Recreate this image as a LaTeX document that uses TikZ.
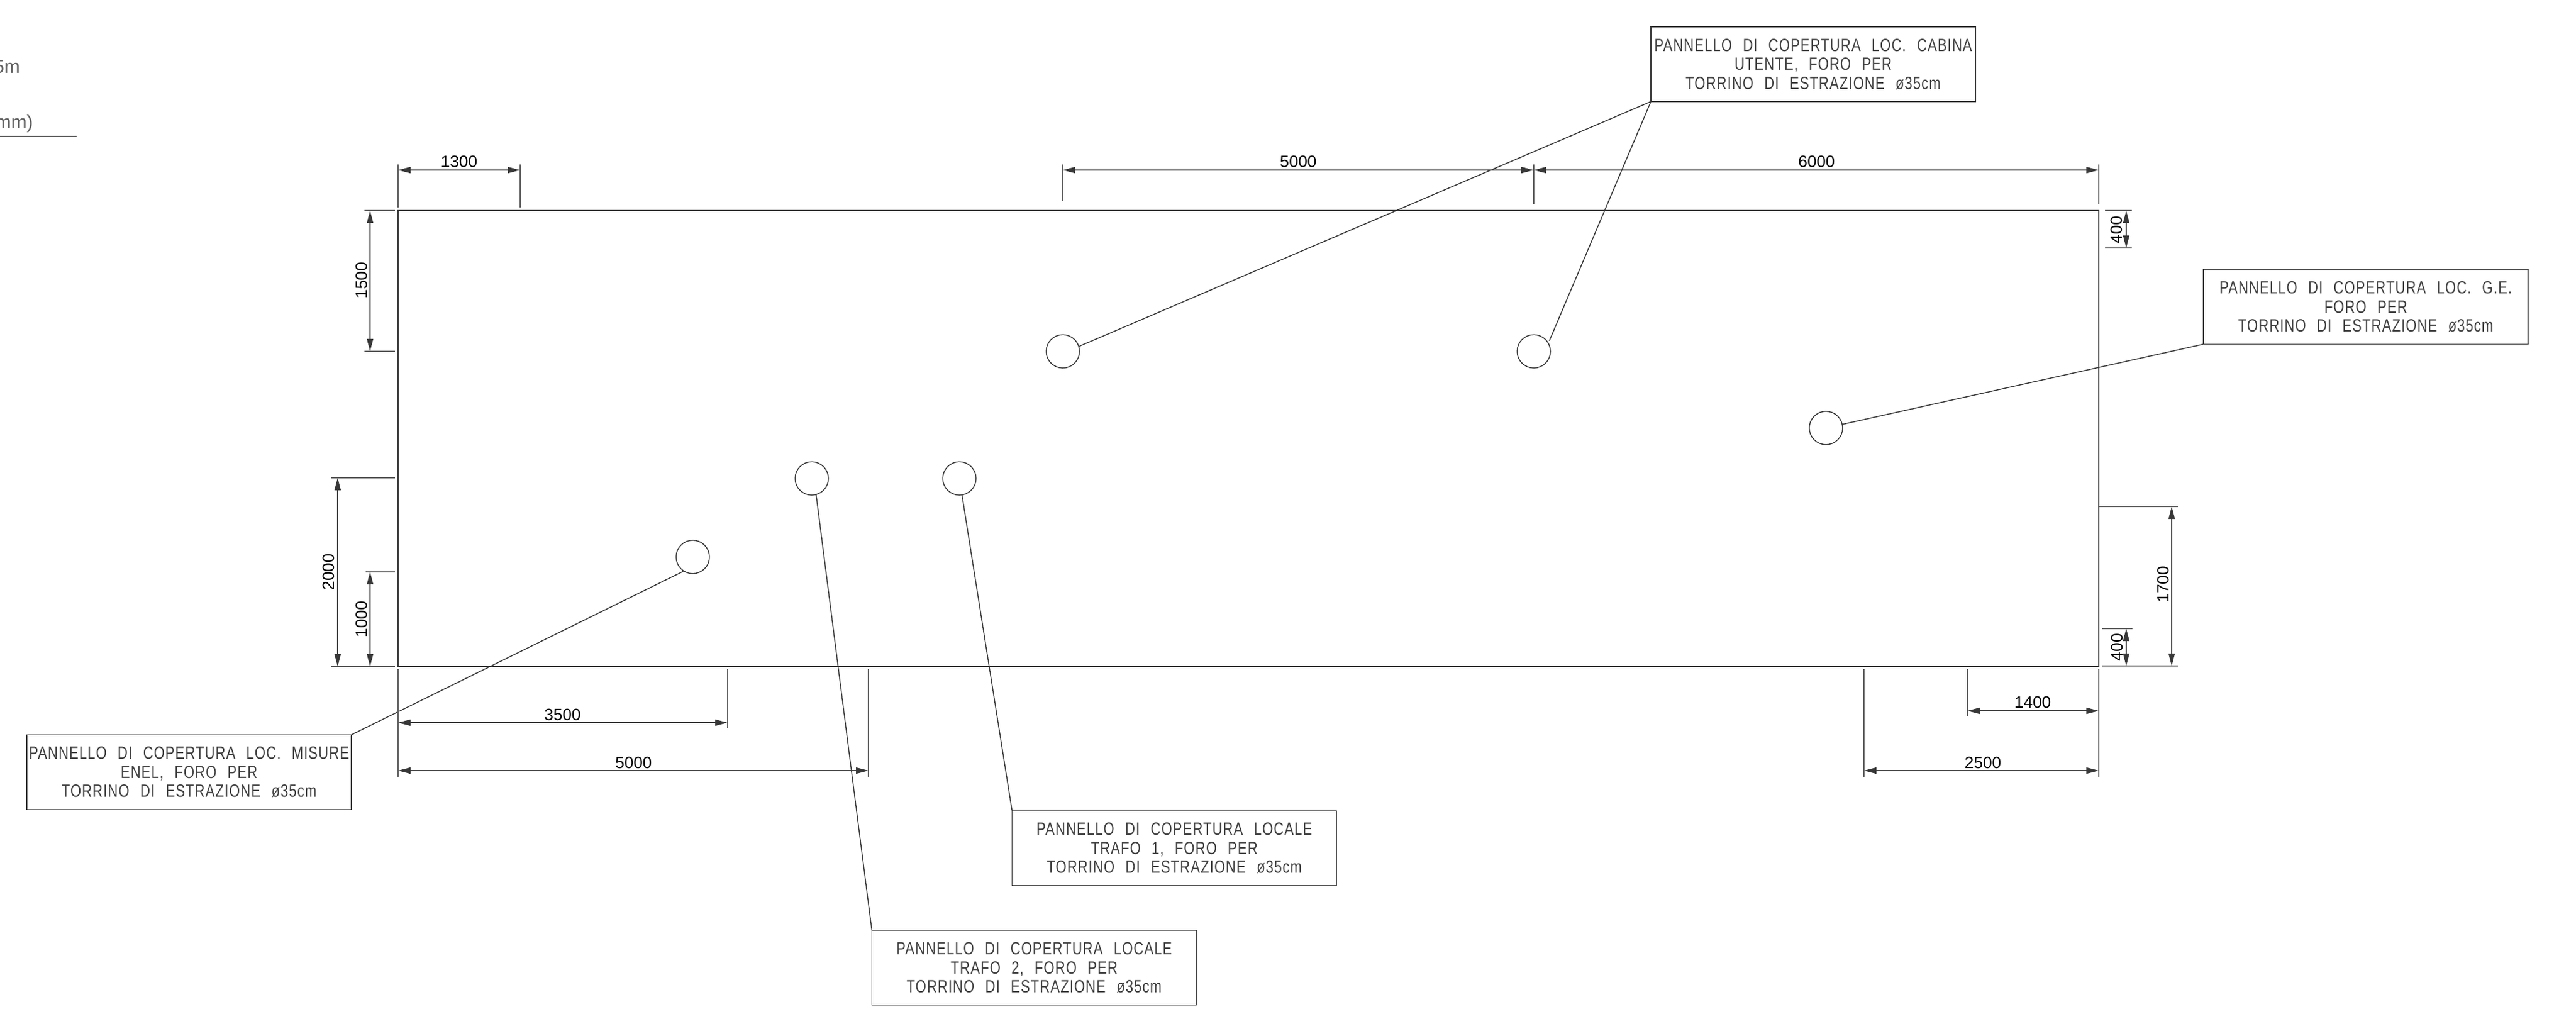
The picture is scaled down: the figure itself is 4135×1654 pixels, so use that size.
\documentclass[tikz,border=0pt]{standalone}
\usepackage{fontspec}
\usetikzlibrary{arrows.meta}
\setmainfont{Liberation Sans}
\newfontfamily\thinfont[FakeStretch=0.78,WordSpace=2.4,LetterSpace=4]{Liberation Sans}
\definecolor{linecol}{HTML}{383838}
\definecolor{extcol}{HTML}{606060}
\definecolor{thincol}{HTML}{404040}
\tikzset{
  every node/.style={inner sep=0pt,outer sep=0pt},
  sheetline/.style={draw=linecol,line width=0.15mm},
  extline/.style={draw=extcol,line width=0.15mm},
  dimline/.style={draw=linecol,line width=0.15mm,{Triangle[length=2mm,width=1mm]}-{Triangle[length=2mm,width=1mm]}},
  leader/.style={draw=linecol,line width=0.15mm},
  hole/.style={circle,draw=linecol,line width=0.15mm,minimum size=5.35mm},
  notebox/.style={rectangle,draw=linecol,line width=0.15mm,minimum width=52.1mm,minimum height=12mm,align=center,
    font=\thinfont\fontsize{8.1}{8.68}\selectfont,text=thincol},
  dimtext/.style={font=\fontsize{7.5}{9}\selectfont,text=black},
  dimtextv/.style={dimtext,rotate=90},
  cuttext/.style={anchor=east,font=\fontsize{8.6}{9}\selectfont,text=extcol}
}
\begin{document}
\begin{tikzpicture}[x=0.1mm,y=-0.1mm]
\useasboundingbox (0,0) rectangle (4135,1654);
% clipped remains at the upper left
\node[cuttext] (cutA) at (32,107) {5m};
\node[cuttext] (cutB) at (53,199) {mm)};
\coordinate (ruleA) at (0,219); \coordinate (ruleB) at (123,219);
\draw[draw=extcol,line width=0.15mm] (ruleA) -- (ruleB);
% sheet outline
\node[rectangle,sheetline,minimum width=273mm,minimum height=73.2mm,anchor=north west] (sheet) at (639,338) {};
% holes
\node[hole] (hA) at (1706,564) {};
\node[hole] (hB) at (2462,564) {};
\node[hole] (hC) at (2931,687) {};
\node[hole] (hD) at (1303,768) {};
\node[hole] (hE) at (1540,768) {};
\node[hole] (hF) at (1112,894) {};
% leader ends that stop on the rim of a hole, off its centre line
\coordinate (endA) at (1732,556);
\coordinate (endB) at (2487,547);
\coordinate (endD) at (1310,794);
\coordinate (endF) at (1097,917);
% notes
\node[notebox] (nCab) at (2910.5,103) {PANNELLO DI COPERTURA LOC. CABINA\\UTENTE, FORO PER\\TORRINO DI ESTRAZIONE ø35cm};
\node[notebox] (nGE) at (3797.5,492.5) {PANNELLO DI COPERTURA LOC. G.E.\\FORO PER\\TORRINO DI ESTRAZIONE ø35cm};
\node[notebox] (nEnel) at (303.5,1239.5) {PANNELLO DI COPERTURA LOC. MISURE\\ENEL, FORO PER\\TORRINO DI ESTRAZIONE ø35cm};
\node[notebox] (nT1) at (1885,1361.5) {PANNELLO DI COPERTURA LOCALE\\TRAFO 1, FORO PER\\TORRINO DI ESTRAZIONE ø35cm};
\node[notebox] (nT2) at (1660,1553.5) {PANNELLO DI COPERTURA LOCALE\\TRAFO 2, FORO PER\\TORRINO DI ESTRAZIONE ø35cm};
% leaders
\draw[leader] (nCab.south west) -- (endA);
\draw[leader] (nCab.south west) -- (endB);
\draw[leader] (nGE.south west) -- (hC);
\draw[leader] (nEnel.north east) -- (endF);
\draw[leader] (nT1.north west) -- (hE);
\draw[leader] (nT2.north west) -- (endD);
% extension lines
\draw[extline] (639,264)--(639,333);
\draw[extline] (835,264)--(835,333);
\draw[extline] (1706,264)--(1706,323);
\draw[extline] (2462,264)--(2462,328);
\draw[extline] (3369,264)--(3369,328);
\draw[extline] (585,338)--(634,338);
\draw[extline] (585,564)--(634,564);
\draw[extline] (532,767)--(634,767);
\draw[extline] (587,918)--(634,918);
\draw[extline] (532,1070)--(634,1070);
\draw[extline] (3379,338)--(3422,338);
\draw[extline] (3379,398)--(3422,398);
\draw[extline] (3370,813)--(3496,813);
\draw[extline] (3374,1009)--(3423,1009);
\draw[extline] (3374,1069)--(3496,1069);
\draw[extline] (639,1074)--(639,1247);
\draw[extline] (1168,1074)--(1168,1169);
\draw[extline] (1394,1074)--(1394,1247);
\draw[extline] (2992,1074)--(2992,1247);
\draw[extline] (3158,1074)--(3158,1150);
\draw[extline] (3369,1074)--(3369,1247);
% dimension end points
\coordinate (a1) at (639,273);  \coordinate (b1) at (835,273);
\coordinate (a2) at (1706,273); \coordinate (b2) at (2462,273);
\coordinate (a3) at (2462,273); \coordinate (b3) at (3369,273);
\coordinate (a4) at (594,338);  \coordinate (b4) at (594,564);
\coordinate (a5) at (542,767);  \coordinate (b5) at (542,1070);
\coordinate (a6) at (594,918);  \coordinate (b6) at (594,1070);
\coordinate (a7) at (3413,338); \coordinate (b7) at (3413,398);
\coordinate (a8) at (3486,813); \coordinate (b8) at (3486,1069);
\coordinate (a9) at (3413,1009);\coordinate (b9) at (3413,1069);
\coordinate (a10) at (639,1160);\coordinate (b10) at (1168,1160);
\coordinate (a11) at (639,1237);\coordinate (b11) at (1394,1237);
\coordinate (a12) at (3158,1141);\coordinate (b12) at (3369,1141);
\coordinate (a13) at (2992,1237);\coordinate (b13) at (3369,1237);
\foreach \n in {1,...,13}{\draw[dimline] (a\n) -- (b\n);}
% dimension values
\node[dimtext] (t1) at (737,259) {1300};
\node[dimtext] (t2) at (2084,259) {5000};
\node[dimtext] (t3) at (2916,259) {6000};
\node[dimtextv] (t4) at (580,450) {1500};
\node[dimtextv] (t5) at (527,918) {2000};
\node[dimtextv] (t6) at (580,994) {1000};
\node[dimtextv] (t7) at (3397,369) {400};
\node[dimtextv] (t8) at (3472,938) {1700};
\node[dimtextv] (t9) at (3398,1039) {400};
\node[dimtext] (t10) at (903,1147) {3500};
\node[dimtext] (t11) at (1017,1224) {5000};
\node[dimtext] (t12) at (3263,1127) {1400};
\node[dimtext] (t13) at (3183,1224) {2500};
\end{tikzpicture}
\end{document}
